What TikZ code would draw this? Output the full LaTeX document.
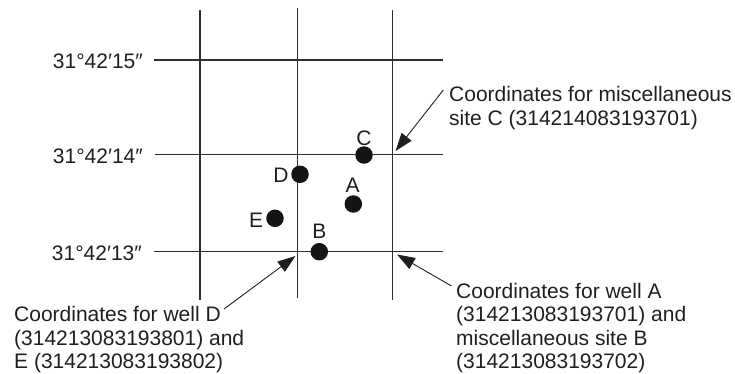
\documentclass[tikz,border=0pt]{standalone}
\usepackage{fontspec}
\setmainfont{Liberation Sans}
\usetikzlibrary{arrows.meta}
\begin{document}
\begin{tikzpicture}[x=1pt,y=-1pt,
  textfont/.style={font=\fontsize{21}{23.3}\selectfont,text=black!88},
  gridline/.style={draw=black!82,line width=1.5pt},
  well/.style={circle,fill=black!92,minimum size=17.5pt,inner sep=0pt},
  welllabel/.style={inner sep=0pt,textfont},
  latlabel/.style={inner sep=0pt,anchor=east,textfont},
  note/.style={inner sep=0pt,anchor=base west,align=left,textfont},
  pointer/.style={draw=black!88,line width=0.9pt,-{Triangle[length=18pt,width=12.5pt]}}]
\useasboundingbox (0,0) rectangle (735,373);

% grid of latitude / longitude lines
\draw[gridline] (200,10) -- (200,300);
\draw[gridline] (297.7,8) -- (297.7,298);
\draw[gridline] (392.7,10) -- (392.7,300);
\draw[gridline] (154,60) -- (443,60);
\draw[gridline] (155,154.3) -- (443,154.3);
\draw[gridline] (154,251.7) -- (443,251.7);

% latitude labels
\node[latlabel] (lat15) at (143,61) {31°42′15″};
\node[latlabel] (lat14) at (143,155.8) {31°42′14″};
\node[latlabel] (lat13) at (142,253.2) {31°42′13″};

% wells and sites
\node[well] (C) at (364,155) {};
\node[well] (D) at (300,174.3) {};
\node[well] (A) at (353.3,204) {};
\node[well] (E) at (275,218.3) {};
\node[well] (B) at (319.3,251.7) {};

\node[welllabel] (Clab) at (364,138) {C};
\node[welllabel] (Dlab) at (281,175.5) {D};
\node[welllabel] (Alab) at (352.7,185.5) {A};
\node[welllabel] (Elab) at (256,220.7) {E};
\node[welllabel] (Blab) at (319.3,231) {B};

% explanatory notes (anchored on the baseline of their last line)
\node[note] (noteC) at (449,125) {Coordinates for miscellaneous\\site C (314214083193701)};
\node[note] (noteAB) at (456,368.3) {Coordinates for well A\\(314213083193701) and\\miscellaneous site B\\(314213083193702)};
\node[note] (noteDE) at (14,368.3) {Coordinates for well D\\(314213083193801) and\\E (314213083193802)};

% pointer ends
\coordinate (tailC) at (443.3,90);
\coordinate (tipC) at (395.5,151);
\coordinate (tailAB) at (451.5,286);
\coordinate (tipAB) at (397,254.5);
\coordinate (tailDE) at (224,309);
\coordinate (tipDE) at (295.5,256);

\draw[pointer] (tailC) -- (tipC);
\draw[pointer] (tailAB) -- (tipAB);
\draw[pointer] (tailDE) -- (tipDE);
\end{tikzpicture}
\end{document}
